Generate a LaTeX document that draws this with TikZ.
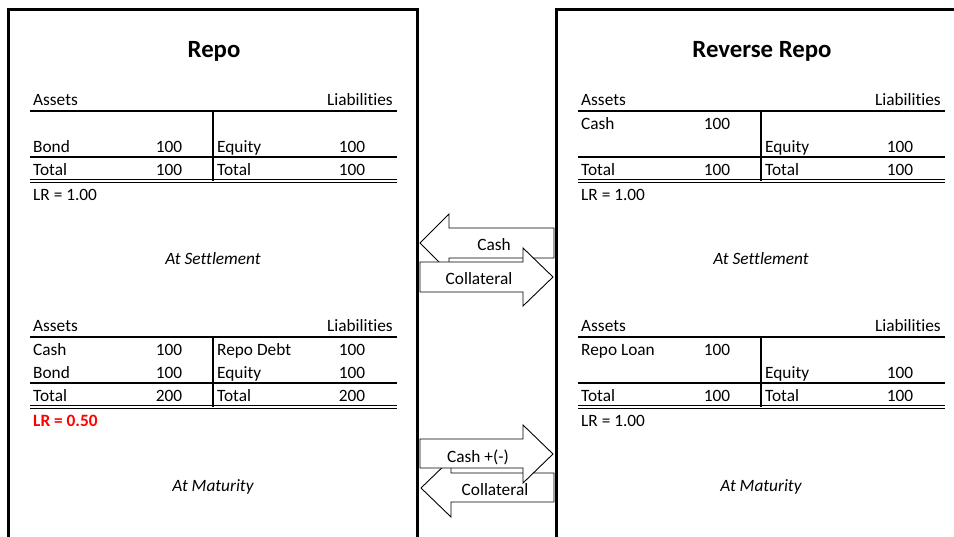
\documentclass[tikz,border=0pt]{standalone}
\usepackage{fontspec}
\setmainfont{Carlito}[Ligatures=NoCommon]
\definecolor{lrred}{RGB}{255,0,0}
\begin{document}
\begin{tikzpicture}[x=1pt,y=-1pt,
  txt/.style={inner sep=0pt,font=\fontsize{17.3}{20}\selectfont},
  lft/.style={txt,anchor=base west},
  rgt/.style={txt,anchor=base east},
  mid/.style={txt,anchor=base},
  captiontext/.style={txt,anchor=base,font=\fontsize{17.3}{20}\selectfont\itshape},
  titletext/.style={inner sep=0pt,anchor=base,font=\fontsize{24.8}{28}\selectfont\bfseries},
  frame/.style={line width=3pt,line join=miter},
  headrule/.style={line width=2.6pt},
  rule/.style={line width=1.3pt},
  dblrule/.style={line width=1.1pt},
  blockarrow/.style={draw=black,fill=white,line width=0.9pt,line join=miter}]
\useasboundingbox (0,0) rectangle (954,537);
\clip (0,0) rectangle (954,537);
\fill[white] (0,0) rectangle (954,537);

% frames
\draw[frame] (8,560) -- (8,10) -- (417,10) -- (417,560);
\draw[frame] (556,560) -- (556,10) -- (980,10);

% titles
\node[titletext] (t1) at (214,58) {Repo};
\node[titletext] (t2) at (762,58) {Reverse Repo};

% ---------- Repo, at settlement ----------
\draw[headrule] (30,111) -- (397,111);
\draw[rule] (213,111) -- (213,181);
\draw[rule] (30,157) -- (397,157);
\draw[dblrule] (30,179.3) -- (397,179.3);
\draw[dblrule] (30,182.5) -- (397,182.5);
\node[lft] (a1) at (33,106) {Assets};
\node[rgt] (l1) at (393,106) {Liabilities};
\node[lft] (a1r2) at (33,153) {Bond};
\node[mid] (a1r2v) at (169,153) {100};
\node[lft] (l1r2) at (217,153) {Equity};
\node[mid] (l1r2v) at (352,153) {100};
\node[lft] (a1t) at (33,176) {Total};
\node[mid] (a1tv) at (169,176) {100};
\node[lft] (l1t) at (217,176) {Total};
\node[mid] (l1tv) at (352,176) {100};
\node[lft] (lr1) at (33,201) {LR = 1.00};
\node[captiontext] (c1) at (213,265) {At Settlement};

% ---------- Repo, at maturity ----------
\draw[headrule] (30,337) -- (397,337);
\draw[rule] (213,337) -- (213,407);
\draw[rule] (30,383) -- (397,383);
\draw[dblrule] (30,405.3) -- (397,405.3);
\draw[dblrule] (30,408.5) -- (397,408.5);
\node[lft] (a2) at (33,332) {Assets};
\node[rgt] (l2) at (393,332) {Liabilities};
\node[lft] (a2r1) at (33,356) {Cash};
\node[mid] (a2r1v) at (169,356) {100};
\node[lft] (l2r1) at (217,356) {Repo Debt};
\node[mid] (l2r1v) at (352,356) {100};
\node[lft] (a2r2) at (33,379) {Bond};
\node[mid] (a2r2v) at (169,379) {100};
\node[lft] (l2r2) at (217,379) {Equity};
\node[mid] (l2r2v) at (352,379) {100};
\node[lft] (a2t) at (33,402) {Total};
\node[mid] (a2tv) at (169,402) {200};
\node[lft] (l2t) at (217,402) {Total};
\node[mid] (l2tv) at (352,402) {200};
\node[lft,text=lrred,font=\fontsize{17.3}{20}\selectfont\bfseries] (lr2) at (33,427) {LR = 0.50};
\node[captiontext] (c2) at (213,491) {At Maturity};

% ---------- Reverse repo, at settlement ----------
\begin{scope}[shift={(548,0)}]
\draw[headrule] (30,111) -- (397,111);
\draw[rule] (213,111) -- (213,181);
\draw[rule] (30,157) -- (397,157);
\draw[dblrule] (30,179.3) -- (397,179.3);
\draw[dblrule] (30,182.5) -- (397,182.5);
\node[lft] (a3) at (33,106) {Assets};
\node[rgt] (l3) at (393,106) {Liabilities};
\node[lft] (a3r1) at (33,130) {Cash};
\node[mid] (a3r1v) at (169,130) {100};
\node[lft] (l3r2) at (217,153) {Equity};
\node[mid] (l3r2v) at (352,153) {100};
\node[lft] (a3t) at (33,176) {Total};
\node[mid] (a3tv) at (169,176) {100};
\node[lft] (l3t) at (217,176) {Total};
\node[mid] (l3tv) at (352,176) {100};
\node[lft] (lr3) at (33,201) {LR = 1.00};
\node[captiontext] (c3) at (213,265) {At Settlement};

% ---------- Reverse repo, at maturity ----------
\draw[headrule] (30,337) -- (397,337);
\draw[rule] (213,337) -- (213,407);
\draw[rule] (30,383) -- (397,383);
\draw[dblrule] (30,405.3) -- (397,405.3);
\draw[dblrule] (30,408.5) -- (397,408.5);
\node[lft] (a4) at (33,332) {Assets};
\node[rgt] (l4) at (393,332) {Liabilities};
\node[lft] (a4r1) at (33,356) {Repo Loan};
\node[mid] (a4r1v) at (169,356) {100};
\node[lft] (l4r2) at (217,379) {Equity};
\node[mid] (l4r2v) at (352,379) {100};
\node[lft] (a4t) at (33,402) {Total};
\node[mid] (a4tv) at (169,402) {100};
\node[lft] (l4t) at (217,402) {Total};
\node[mid] (l4tv) at (352,402) {100};
\node[lft] (lr4) at (33,427) {LR = 1.00};
\node[captiontext] (c4) at (213,491) {At Maturity};
\end{scope}

% ---------- block arrows, settlement ----------
\draw[blockarrow] (420,243) -- (449,214) -- (449,228) -- (554,228) -- (554,258)
  -- (449,258) -- (449,272) -- cycle;
\draw[blockarrow] (420,262) -- (523,262) -- (523,248) -- (553,277) -- (523,306)
  -- (523,292) -- (420,292) -- cycle;
\node[mid] (cashA) at (494,251) {Cash};
\node[mid] (collA) at (479,285) {Collateral};

% ---------- block arrows, maturity ----------
\draw[blockarrow] (421,488) -- (451,459) -- (451,473) -- (554,473) -- (554,502)
  -- (451,502) -- (451,517) -- cycle;
\draw[blockarrow] (420,439) -- (523,439) -- (523,425) -- (553,454) -- (523,483)
  -- (523,468) -- (420,468) -- cycle;
\node[mid] (cashB) at (478,462) {Cash +(-)};
\node[mid] (collB) at (495,496) {Collateral};
\end{tikzpicture}
\end{document}
